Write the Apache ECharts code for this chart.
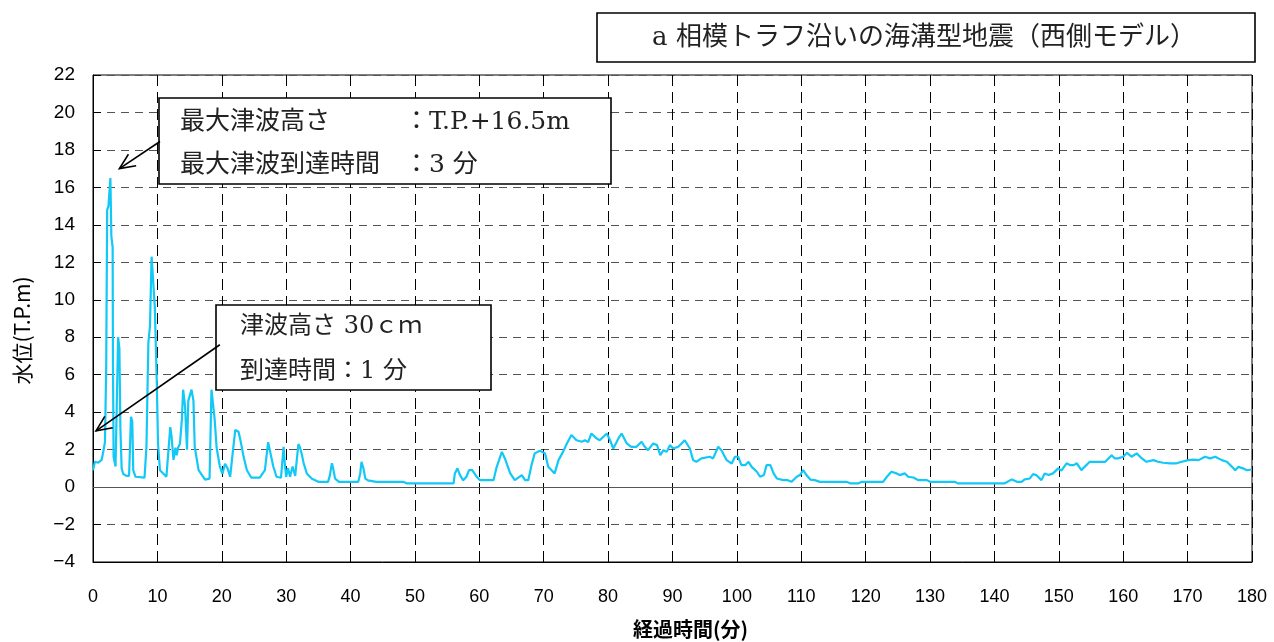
<!DOCTYPE html>
<html>
<head>
<meta charset="utf-8">
<script src="https://cdn.jsdelivr.net/npm/echarts@6/dist/echarts.min.js"></script>
<style>
  html, body { margin: 0; padding: 0; background: #fff; }
  #chart { width: 1274px; height: 642px; }
</style>
</head>
<body>
<div id="chart"></div>
<script>
// 経過時間（分）
const minutes = [
  0, 0.3, 0.8, 1.35, 1.6, 1.86, 2.05, 2.2, 2.4, 2.7, 2.85, 3.05, 3.1, 3.2, 3.5, 3.75, 3.9, 4.1, 4.25, 4.45,
  4.7, 5.2, 5.6, 5.9, 6.1, 6.25, 6.6, 8.0, 8.3, 8.6, 8.85, 9.1, 9.4, 9.6, 9.9, 10.1, 10.4, 11.4, 12.0, 12.2,
  12.5, 12.8, 13.0, 13.2, 13.5, 13.8, 14.0, 14.3, 14.6, 14.8, 15.3, 15.6, 15.8, 16.4, 17.4, 18.1, 18.4, 18.9, 19.2, 19.7,
  20.1, 20.5, 20.9, 21.3, 21.8, 22.1, 22.6, 22.9, 23.4, 23.9, 24.6, 25.9, 26.7, 27.2, 27.5, 28.0, 28.5, 29.2, 29.6, 29.8,
  30.0, 30.3, 30.6, 31.0, 31.4, 31.7, 31.9, 32.1, 32.4, 32.7, 33.2, 34.0, 35.0, 36.5, 36.8, 37.1, 37.3, 37.6, 38.2, 41.2,
  41.5, 41.7, 42.0, 42.3, 42.7, 44.0, 48.2, 48.7, 56.0, 56.2, 56.6, 57.0, 57.5, 58.0, 58.4, 58.9, 59.6, 60.1, 62.2, 62.7,
  63.5, 64.0, 64.8, 65.5, 66.6, 67.1, 67.6, 68.1, 68.6, 69.4, 70.2, 70.7, 71.7, 72.3, 73.0, 73.6, 74.3, 75.1, 75.9, 76.4,
  76.9, 77.4, 78.2, 78.7, 79.8, 80.3, 80.8, 81.6, 82.1, 82.9, 83.6, 84.4, 85.2, 85.7, 86.2, 87.0, 87.6, 88.1, 88.6, 89.1,
  89.6, 90.1, 90.9, 91.4, 91.9, 92.7, 93.2, 93.7, 94.5, 95.8, 96.3, 97.1, 97.6, 98.4, 99.2, 99.7, 100.2, 100.7, 101.3, 101.8,
  102.3, 103.1, 103.6, 104.2, 104.6, 105.2, 105.7, 106.2, 107.2, 107.9, 108.5, 109.3, 109.8, 110.3, 110.8, 111.4, 112.1, 112.9, 117.0, 117.6,
  118.9, 119.4, 122.7, 123.3, 124.0, 124.8, 125.3, 126.1, 126.6, 127.4, 128.2, 129.5, 130.0, 133.9, 134.3, 141.6, 142.7, 143.5, 144.2, 144.7,
  145.5, 146.0, 146.5, 147.3, 147.8, 148.4, 149.1, 149.9, 150.4, 151.2, 151.8, 152.3, 152.8, 153.5, 154.0, 154.8, 156.4, 157.2, 157.7, 158.2,
  158.7, 159.2, 160.0, 160.6, 161.3, 162.1, 162.9, 163.6, 164.7, 165.4, 166.2, 167.3, 168.3, 169.1, 170.1, 170.9, 171.7, 172.7, 173.5, 174.3,
  175.3, 176.1, 176.9, 177.4, 177.9, 178.6, 179.2, 180.0
];

// 水位（T.P.m）
const waterLevel = [
  0.9, 1.35, 1.3, 1.45, 1.9, 2.4, 6.4, 14.8, 15.0, 16.5, 13.4, 12.8, 6.7, 1.6, 1.1, 1.2, 8.0, 7.4, 3.2, 1.0,
  0.7, 0.6, 0.6, 3.75, 3.5, 0.9, 0.55, 0.5, 2.15, 7.7, 8.6, 12.3, 12.2, 9.6, 5.7, 2.3, 0.9, 0.55, 3.2, 2.7,
  1.45, 2.1, 1.7, 2.1, 2.3, 3.6, 5.2, 4.3, 2.0, 4.6, 5.2, 4.6, 2.15, 0.9, 0.4, 0.45, 5.2, 3.6, 2.1, 1.1,
  0.7, 1.25, 1.0, 0.55, 2.15, 3.05, 2.95, 2.5, 1.6, 0.9, 0.5, 0.5, 0.9, 2.4, 2.3, 1.1, 0.55, 0.5, 2.15, 1.2,
  0.55, 1.0, 0.55, 1.1, 0.6, 0.55, 2.3, 2.15, 1.8, 1.3, 0.73, 0.45, 0.28, 0.28, 0.64, 1.27, 1.0, 0.45, 0.28, 0.28,
  0.73, 1.35, 1.0, 0.45, 0.36, 0.28, 0.28, 0.2, 0.2, 0.73, 1.0, 0.64, 0.36, 0.55, 0.9, 0.9, 0.55, 0.37, 0.37, 1.08,
  1.88, 1.5, 0.73, 0.37, 0.64, 0.37, 0.37, 1.17, 1.8, 1.94, 1.8, 1.08, 0.73, 1.44, 1.88, 2.33, 2.78, 2.5, 2.42, 2.5,
  2.4, 2.86, 2.6, 2.5, 2.86, 2.5, 2.06, 2.6, 2.86, 2.33, 2.15, 2.15, 2.42, 2.15, 1.97, 2.33, 2.24, 1.7, 1.97, 1.88,
  2.24, 2.06, 2.15, 2.33, 2.5, 2.06, 1.44, 1.35, 1.53, 1.62, 1.53, 2.15, 1.97, 1.44, 1.26, 1.62, 1.62, 1.17, 1.17, 1.35,
  1.08, 0.82, 0.55, 0.64, 1.17, 1.17, 0.73, 0.46, 0.37, 0.37, 0.28, 0.55, 0.64, 0.9, 0.64, 0.4, 0.37, 0.28, 0.28, 0.2,
  0.2, 0.28, 0.28, 0.55, 0.82, 0.73, 0.64, 0.73, 0.55, 0.51, 0.37, 0.37, 0.28, 0.28, 0.2, 0.2, 0.41, 0.28, 0.28, 0.41,
  0.46, 0.69, 0.64, 0.37, 0.73, 0.64, 0.73, 1.0, 0.88, 1.27, 1.17, 1.17, 1.27, 0.9, 1.08, 1.35, 1.35, 1.35, 1.53, 1.7,
  1.53, 1.53, 1.62, 1.83, 1.62, 1.8, 1.53, 1.35, 1.44, 1.35, 1.3, 1.27, 1.27, 1.35, 1.44, 1.47, 1.44, 1.62, 1.53, 1.62,
  1.44, 1.35, 1.08, 0.9, 1.08, 1.0, 0.9, 0.94
];

// 軸の範囲
const timeAxis = { min: 0, max: 180, interval: 10 };
const levelAxis = { min: -4, max: 22, interval: 2 };

// 注記の矢印（データ座標）: 始点と先端
const arrowMax = { from: [10.4, 18.45], to: [4.1, 17.0] };
const arrowFirst = { from: [19.7, 7.6], to: [0.47, 3.0] };

const titleText = 'a 相模トラフ沿いの海溝型地震（西側モデル）';

const series = minutes.map((t, i) => [t, waterLevel[i]]);

const gothic = '"Noto Sans CJK JP", "Noto Sans", sans-serif';
const numeric = '"Liberation Sans", Arial, sans-serif';
const mincho = '"DejaVu Serif", "Noto Sans CJK JP", serif';

const chart = echarts.init(document.getElementById('chart'), null, { renderer: 'canvas' });

chart.setOption({
  animation: false,
  backgroundColor: '#ffffff',
  grid: {
    left: 93, right: 22, top: 75, bottom: 80,
    containLabel: false,
    outerBoundsMode: 'none',
    show: true,
    borderColor: '#000',
    borderWidth: 1,
    backgroundColor: 'transparent'
  },
  xAxis: {
    type: 'value',
    min: timeAxis.min, max: timeAxis.max, interval: timeAxis.interval,
    name: '経過時間(分)',
    nameLocation: 'middle',
    nameGap: 57,
    nameTextStyle: { fontFamily: gothic, fontSize: 20, color: '#000', fontWeight: 'bold', padding: [0, 0, 0, 36] },
    axisLine: { show: true, onZero: false, lineStyle: { color: '#000', width: 1 } },
    axisTick: { show: true, inside: true, length: 7, lineStyle: { color: '#000' } },
    axisLabel: { margin: 26, fontFamily: numeric, fontSize: 18, color: '#000' },
    splitLine: { show: true, lineStyle: { color: '#000', type: [11, 6], width: 1 } }
  },
  yAxis: {
    type: 'value',
    min: levelAxis.min, max: levelAxis.max, interval: levelAxis.interval,
    name: '水位(T.P.m)',
    nameLocation: 'middle',
    nameGap: 60,
    nameRotate: 90,
    nameTextStyle: { fontFamily: gothic, fontSize: 21, color: '#000', padding: [0, 24, 0, 0] },
    axisLine: { show: true, onZero: false, lineStyle: { color: '#000', width: 1 } },
    axisTick: { show: true, inside: true, length: 8, lineStyle: { color: '#000' } },
    axisLabel: {
      margin: 18, fontFamily: numeric, fontSize: 19, color: '#000',
      formatter: v => (v < 0 ? '\u2212' + Math.abs(v) : String(v))
    },
    splitLine: { show: true, lineStyle: { color: '#555', type: [8, 6], width: 1 } }
  },
  series: [{
    type: 'line',
    data: series,
    showSymbol: false,
    symbol: 'none',
    lineStyle: { color: '#12c8f6', width: 2.2 },
    z: 3,
    markLine: {
      silent: true,
      symbol: ['none', 'none'],
      label: { show: false },
      lineStyle: { color: '#555', type: 'solid', width: 1.2 },
      data: [{ yAxis: 0 }]
    }
  }]
});

// 注記の矢印をデータ座標から描く
function arrowGraphic(a) {
  const p0 = chart.convertToPixel({ gridIndex: 0 }, a.from);
  const p1 = chart.convertToPixel({ gridIndex: 0 }, a.to);
  const ang = Math.atan2(p0[1] - p1[1], p0[0] - p1[0]);
  const len = 17, spread = 0.42;
  const h1 = [p1[0] + len * Math.cos(ang + spread), p1[1] + len * Math.sin(ang + spread)];
  const h2 = [p1[0] + len * Math.cos(ang - spread), p1[1] + len * Math.sin(ang - spread)];
  const style = { stroke: '#000', lineWidth: 1.6, fill: null };
  return [
    { type: 'line', z: 20, shape: { x1: p0[0], y1: p0[1], x2: p1[0], y2: p1[1] }, style },
    { type: 'polyline', z: 20, shape: { points: [h1, p1, h2] }, style }
  ];
}

function box(x, y, w, h) {
  return {
    type: 'rect', z: 15,
    shape: { x: x, y: y, width: w, height: h },
    style: { fill: '#fff', stroke: '#000', lineWidth: 1.6 }
  };
}

function label(text, x, y, size) {
  return {
    type: 'text', z: 25, x: x, y: y,
    style: {
      text: text, fill: '#222', font: size + 'px ' + mincho,
      textVerticalAlign: 'middle', verticalAlign: 'middle'
    }
  };
}

chart.setOption({
  graphic: [
    // タイトル枠
    box(597, 13, 658, 49),
    {
      type: 'text', z: 25, x: 924, y: 38,
      style: {
        text: titleText, fill: '#222', font: '26px ' + mincho,
        align: 'center', textAlign: 'center', verticalAlign: 'middle', textVerticalAlign: 'middle'
      }
    },
    // 最大津波の注記
    box(159, 98, 452, 86),
    label('最大津波高さ', 180, 122, 25),
    label('：T.P.+16.5m', 404, 122, 25),
    label('最大津波到達時間', 180, 165, 25),
    label('：3 分', 404, 165, 25),
    // 津波到達の注記
    box(216, 305, 275, 85),
    label('津波高さ 30ｃｍ', 240, 327, 24),
    label('到達時間：1 分', 240, 372, 24),
    ...arrowGraphic(arrowMax),
    ...arrowGraphic(arrowFirst)
  ]
});
</script>
</body>
</html>
